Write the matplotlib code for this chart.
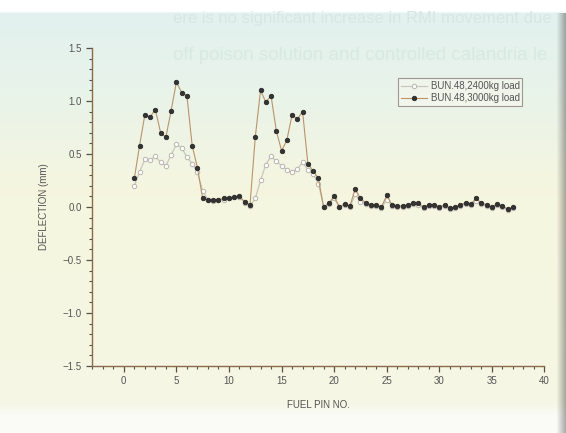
import matplotlib
matplotlib.use('Agg')
import numpy as np
import matplotlib.pyplot as plt
from matplotlib.colors import to_rgb
from matplotlib.ticker import MultipleLocator

# fuel pin positions (half-pin steps)
pins = [1, 1.5, 2, 2.5, 3, 3.5, 4, 4.5, 5, 5.5, 6, 6.5, 7, 7.5,
        8, 8.5, 9, 9.5, 10, 10.5, 11, 11.5, 12,
        12.5, 13, 13.5, 14, 14.5, 15, 15.5, 16, 16.5, 17, 17.5, 18, 18.5,
        19, 19.5, 20, 20.5, 21, 21.5, 22, 22.5, 23, 23.5, 24, 24.5, 25,
        25.5, 26, 26.5, 27, 27.5, 28, 28.5, 29, 29.5, 30, 30.5, 31,
        31.5, 32, 32.5, 33, 33.5, 34, 34.5, 35, 35.5, 36, 36.5, 37]

# BUN.48, 2400kg load
defl_2400 = [0.20, 0.33, 0.45, 0.44, 0.48, 0.42, 0.39, 0.49, 0.59, 0.56, 0.47, 0.41, 0.33, 0.15,
             0.07, 0.06, 0.07, 0.07, 0.08, 0.09, 0.09, 0.04, 0.01,
             0.08, 0.25, 0.40, 0.48, 0.43, 0.39, 0.35, 0.33, 0.36, 0.42, 0.35, 0.31, 0.22,
             0.00, 0.03, 0.08, 0.00, 0.02, 0.00, 0.12, 0.05, 0.03, 0.01, 0.01, -0.01, 0.07,
             0.01, 0.00, 0.00, 0.01, 0.03, 0.02, -0.01, 0.01, 0.01, -0.01, 0.01, -0.02,
             -0.01, 0.01, 0.03, 0.02, 0.06, 0.03, 0.01, -0.01, 0.02, 0.00, -0.03, -0.01]

# BUN.48, 3000kg load
defl_3000 = [0.27, 0.58, 0.87, 0.85, 0.92, 0.70, 0.66, 0.91, 1.18, 1.08, 1.05, 0.58, 0.37, 0.08,
             0.07, 0.07, 0.07, 0.08, 0.085, 0.09, 0.10, 0.05, 0.02,
             0.66, 1.10, 0.99, 1.05, 0.72, 0.53, 0.63, 0.87, 0.83, 0.90, 0.41, 0.34, 0.27,
             0.00, 0.035, 0.10, 0.00, 0.03, 0.01, 0.17, 0.08, 0.04, 0.02, 0.02, 0.00, 0.11,
             0.02, 0.01, 0.01, 0.02, 0.04, 0.035, 0.00, 0.02, 0.02, 0.00, 0.02, -0.01,
             0.00, 0.02, 0.04, 0.03, 0.08, 0.04, 0.02, 0.00, 0.03, 0.01, -0.02, 0.00]

plt.rcParams['font.family'] = ['Liberation Sans', 'DejaVu Sans']

fig = plt.figure(figsize=(5.66, 4.33), dpi=100, facecolor='#f4f6e4')

# photographed-page background: cyan tint at the top fading to cream
bg = fig.add_axes([0, 0, 1, 1], zorder=-5)
bg.axis('off')
stops = [0.0, 0.025, 0.03, 0.2, 0.45, 0.93, 0.96, 1.0]
cols = ['#ffffff', '#ffffff', '#e2f1ef', '#e8f3ea', '#f6f6df', '#f5f6e4', '#fafbf6', '#fbfbf8']
rows = np.linspace(0, 1, 433)
grad = np.array([[np.interp(r, stops, [to_rgb(c)[k] for c in cols]) for k in range(3)] for r in rows])
img = np.repeat(grad[:, None, :], 566, axis=1)
# darker page edge on the right
edge = np.clip((np.arange(566) - 556) / 10.0, 0, 1)
img = img * (1 - 0.35 * edge[None, :, None] * (rows[:, None, None] > 0.03))
bg.imshow(img, extent=[0, 1, 0, 1], aspect='auto', origin='upper')
bg.set_xlim(0, 1)
bg.set_ylim(0, 1)

# faint show-through text from the page
fig.text(0.305, 0.958, 'ere is no significant increase in RMI movement due',
         fontsize=12, color='#d6e7e3', ha='left', va='center')
fig.text(0.305, 0.872, 'off poison solution and controlled calandria le',
         fontsize=13.5, color='#d9e8e2', ha='left', va='center')

ax = fig.add_axes([0.163, 0.155, 0.799, 0.734])
ax.patch.set_alpha(0)

ax.plot(pins, defl_2400, color='#c9c6c0', lw=0.9, marker='o', ms=3.2,
        mfc='white', mec='#b8b5ae', mew=0.7, label='BUN.48,2400kg load', zorder=2)
ax.plot(pins, defl_3000, color='#b9946a', lw=0.8, marker='o', ms=3.3,
        mfc='#333333', mec='#222222', mew=0.5, label='BUN.48,3000kg load', zorder=3)

ax.set_xlim(-3, 40)
ax.set_ylim(-1.5, 1.5)
ax.xaxis.set_minor_locator(MultipleLocator(1))
ax.yaxis.set_minor_locator(MultipleLocator(0.1))
ax.set_xticks([0, 5, 10, 15, 20, 25, 30, 35, 40])
ax.set_yticks([-1.5, -1.0, -0.5, 0.0, 0.5, 1.0, 1.5])

for side in ['top', 'right']:
    ax.spines[side].set_visible(False)
for side in ['left', 'bottom']:
    ax.spines[side].set_color('#8c6c48')
    ax.spines[side].set_linewidth(1.0)

ax.tick_params(which='major', direction='out', length=4, width=0.9,
               color='#555048', labelsize=7, labelcolor='#555555')
ax.tick_params(which='minor', direction='out', length=2.5, width=0.8, color='#555048')

ax.set_xlabel('FUEL PIN NO.', fontsize=7, color='#555555', labelpad=10)
ax.set_ylabel('DEFLECTION (mm)', fontsize=7, color='#555555', labelpad=10)

leg = ax.legend(loc='upper right', bbox_to_anchor=(0.962, 0.92), fontsize=7,
                frameon=True, fancybox=False, edgecolor='#6e5656',
                facecolor='#f7f8ee', framealpha=0.6, handlelength=2.6,
                borderpad=0.3, labelspacing=0.2, handletextpad=0.4)
leg.get_frame().set_linewidth(0.8)
for t in leg.get_texts():
    t.set_color('#555555')

fig.savefig('out.png', dpi=100, facecolor=fig.get_facecolor())
